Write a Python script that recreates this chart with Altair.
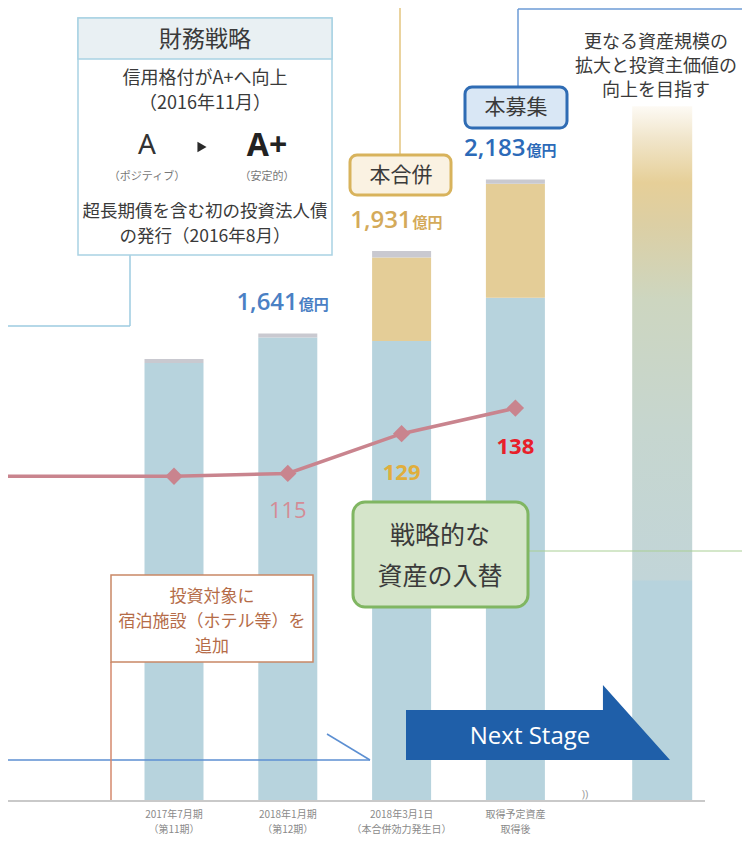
import altair as alt
import pandas as pd

# ---------------- data ----------------
periods = ["2017年7月期", "2018年1月期", "2018年3月1日", "取得予定資産"]
period_sub = ["（第11期）", "（第12期）", "（本合併効力発生日）", "取得後"]
positions = [1, 2, 3, 4]
existing_assets = [1537, 1627, 1615, 1767]   # light blue segment (億円)
merger_assets = [0, 0, 293, 401]             # tan segment (億円)
other_assets = [14, 14, 23, 15]              # grey cap (億円)
total_labels = ["", "1,641", "1,931", "2,183"]
ratio_values = [114, 115, 129, 138]
ratio_labels = ["", "115", "129", "138"]
lead_in_ratio = 114
future_pos = 5.29
future_total = 2440

segments = ["既存", "合併", "その他"]
seg_colors = ["#b7d3dd", "#e4cd97", "#c9c9d0"]

# ---------------- tables ----------------
rows = []
for i, p in enumerate(positions):
    for o, (seg, vals) in enumerate(zip(segments, [existing_assets, merger_assets, other_assets])):
        rows.append({"pos": p, "seg": seg, "v": vals[i], "o": o})
stack_df = pd.DataFrame(rows)

tot_df = pd.DataFrame({
    "pos": positions,
    "total": [a + b + c for a, b, c in zip(existing_assets, merger_assets, other_assets)],
    "label": total_labels,
})
tot_df = tot_df[tot_df["label"] != ""]

axis_df = pd.DataFrame({"pos": positions, "text": [f"{a}\n{b}" for a, b in zip(periods, period_sub)]})

line_df = pd.DataFrame({"pos": positions, "r": ratio_values, "label": ratio_labels})
XMIN, XMAX = 1 - 166 / 113.8, 1 + 568 / 113.8
lead_df = pd.concat([pd.DataFrame({"pos": [XMIN], "r": [lead_in_ratio], "label": [""]}), line_df])
future_df = pd.DataFrame({"pos": [future_pos], "v": [future_total]})

W, H = 734, 827          # whole drawing (autosize none); baseline sits 35px above the bottom
XS = alt.Scale(domain=[XMIN, XMAX], nice=False, zero=False, padding=0)
YS = alt.Scale(domain=[-35 / 0.2843, 2786], nice=False, zero=False)
RS = alt.Scale(domain=[-35 / 2.84, 278.9], nice=False, zero=False)

JP = "Noto Sans CJK JP"
NUM = "Open Sans"
DUMMY = pd.DataFrame({"d": [0]})


# ---------------- helpers for annotations (pixel positions of the picture) ----------------
def T(s, x, y, size, color="#3c3c3c", weight="normal", font=JP, align="center", baseline="middle"):
    return alt.Chart(DUMMY).mark_text(
        text=s, fontSize=size, color=color, fontWeight=weight, font=font,
        align=align, baseline=baseline
    ).encode(x=alt.value(x - 8), y=alt.value(y - 8))


def R(x1, y1, x2, y2, color, w=1.5):
    return alt.Chart(DUMMY).mark_rule(color=color, strokeWidth=w).encode(
        x=alt.value(x1 - 8), y=alt.value(y1 - 8), x2=alt.value(x2 - 8), y2=alt.value(y2 - 8))


def B(x1, y1, x2, y2, fill, stroke, w, r=0):
    return alt.Chart(DUMMY).mark_rect(fill=fill, stroke=stroke, strokeWidth=w, cornerRadius=r).encode(
        x=alt.value(x1 - 8), y=alt.value(y1 - 8), x2=alt.value(x2 - 8), y2=alt.value(y2 - 8))


X_ = alt.X("pos:Q", scale=XS, axis=None)

# ---------------- data layers ----------------
bars = alt.Chart(stack_df).mark_bar(size=59).encode(
    x=X_,
    y=alt.Y("v:Q", stack="zero", scale=YS, axis=None),
    color=alt.Color("seg:N", scale=alt.Scale(domain=segments, range=seg_colors), legend=None),
    order=alt.Order("o:Q", sort="ascending"),
)

grad = alt.Gradient(
    gradient="linear", x1=0, x2=0, y1=1, y2=0,
    stops=[
        alt.GradientStop(color="#b7d3dd", offset=0),
        alt.GradientStop(color="#b7d3dd", offset=0.315),
        alt.GradientStop(color="#c2d5d8", offset=0.318),
        alt.GradientStop(color="#c6d6cf", offset=0.534),
        alt.GradientStop(color="#cdd6c0", offset=0.72),
        alt.GradientStop(color="#dccfa4", offset=0.83),
        alt.GradientStop(color="#e6cf98", offset=0.89),
        alt.GradientStop(color="#f1e6cc", offset=0.955),
        alt.GradientStop(color="#fdfaf4", offset=1),
    ],
)
future = alt.Chart(future_df).mark_bar(size=60, color=grad).encode(
    x=X_, y=alt.Y("v:Q", scale=YS, axis=None), y2=alt.datum(0),
)

axis_text = alt.Chart(axis_df).mark_text(
    baseline="middle", lineBreak="\n", lineHeight=15, fontSize=10, font=JP, color="#8a8a8a"
).encode(x=X_, y=alt.value(815 - 8), text="text:N")

TOT_SCALE = alt.Scale(domain=total_labels[1:], range=["#4a80c4", "#d4aa5a", "#2c6ab8"])
tot_num = alt.Chart(tot_df).mark_text(align="right", baseline="alphabetic", dx=10, dy=-23,
                                      fontSize=24, font=NUM, fontWeight=600).encode(
    x=X_, y=alt.Y("total:Q", scale=YS, axis=None), text="label:N",
    color=alt.Color("label:N", scale=TOT_SCALE, legend=None),
)
tot_unit = alt.Chart(tot_df).mark_text(align="left", baseline="alphabetic", dx=11, dy=-23,
                                       fontSize=15, font=JP, fontWeight="bold", text="億円").encode(
    x=X_, y=alt.Y("total:Q", scale=YS, axis=None),
    color=alt.Color("label:N", scale=TOT_SCALE, legend=None),
)

LINE_C = "#c9848e"
ratio_line = alt.Chart(lead_df).mark_line(color=LINE_C, strokeWidth=3.5).encode(
    x=X_, y=alt.Y("r:Q", scale=RS, axis=None),
)
ratio_pts = alt.Chart(line_df).mark_point(shape="diamond", filled=True, size=300, color=LINE_C,
                                          opacity=1, strokeWidth=0).encode(
    x=X_, y=alt.Y("r:Q", scale=RS, axis=None),
)
ratio_norm = alt.Chart(line_df).transform_filter("datum.label == '115'").mark_text(
    dy=38, fontSize=22, font=NUM, color="#d48c96").encode(
    x=X_, y=alt.Y("r:Q", scale=RS, axis=None), text="label:N",
)
ratio_bold = alt.Chart(line_df).transform_filter("datum.label == '129' || datum.label == '138'").mark_text(
    dy=39, fontSize=22, font=NUM, fontWeight="bold").encode(
    x=X_, y=alt.Y("r:Q", scale=RS, axis=None), text="label:N",
    color=alt.Color("label:N", scale=alt.Scale(domain=["129", "138"], range=["#e0ae3c", "#e8202a"]),
                    legend=None),
)

# ---------------- annotations ----------------
arrow = alt.Chart(DUMMY).mark_point(
    shape="M-1,-0.095L0.492,-0.095L0.492,-0.284L1,0.284L-1,0.284Z",
    size=264 ** 2, filled=True, fill="#1f5fa9", opacity=1, strokeWidth=0,
).encode(x=alt.value(538 - 8), y=alt.value(722.5 - 8))

TXT = "#3a3a3a"
layers = [
    bars, future,
    R(8, 801, 705, 801, "#c9c9c9", 2),
    T("))", 585, 795, 11, "#9a9a9a", font=NUM),
    axis_text,
    # connectors
    R(8, 760, 370, 760, "#5c8fd2"), R(327, 734, 370, 760, "#5c8fd2"),
    R(111, 662, 111, 800, "#d4896c"),
    R(528, 551, 742, 551, "#a9cf94", 1),
    R(130, 255, 130, 326, "#9ccbe0"), R(8, 326, 130, 326, "#9ccbe0"),
    R(400, 8, 400, 155, "#e3c47e"),
    R(518, 9, 518, 87, "#6d9bd6"), R(518, 9, 742, 9, "#6d9bd6"),
    # top-left box
    B(78, 18, 332, 255, "#ffffff", "#a9d2e3", 1.5),
    B(78, 18, 332, 59, "#e9f0f3", "#a9d2e3", 1.5),
    T("財務戦略", 205, 40, 23, TXT),
    T("信用格付がA+へ向上", 205, 79, 18, TXT),
    T("（2016年11月）", 205, 104, 18, TXT),
    T("A", 147, 146, 28, "#333333", font="Noto Sans"),
    alt.Chart(DUMMY).mark_point(shape="triangle-right", filled=True, size=110, color="#2a2a2a",
                                opacity=1, strokeWidth=0).encode(x=alt.value(202 - 8), y=alt.value(147 - 8)),
    T("A+", 267, 146, 32, "#222222", weight="bold", font="Noto Sans"),
    T("（ポジティブ）", 147, 177, 11, "#777777"),
    T("（安定的）", 267, 177, 11, "#777777"),
    T("超長期債を含む初の投資法人債", 205, 212, 17.5, TXT),
    T("の発行（2016年8月）", 205, 237, 17.5, TXT),
    # 本合併
    B(350, 155, 451, 195, "#faf2e2", "#d8b35c", 3, 7),
    T("本合併", 401, 176, 21, TXT),
    # 本募集
    B(465, 87, 567, 128, "#d9e7f5", "#2f6cb4", 3, 7),
    T("本募集", 516, 108, 21, TXT),
    # top right text
    T("更なる資産規模の", 656, 43, 18, TXT),
    T("拡大と投資主価値の", 656, 67, 18, TXT),
    T("向上を目指す", 656, 91, 18, TXT),
    # green box
    B(353, 502, 528, 607, "#d5e5ca", "#80b662", 3, 12),
    T("戦略的な", 440, 536, 25, TXT),
    T("資産の入替", 440, 577, 25, TXT),
    # brown box
    B(111, 575, 313, 662, "#ffffff", "#c98866", 1.5),
    T("投資対象に", 212, 597, 17, "#b56c48"),
    T("宿泊施設（ホテル等）を", 212, 622, 17, "#b56c48"),
    T("追加", 212, 647, 17, "#b56c48"),
    # next stage arrow
    arrow,
    T("Next Stage", 530, 737, 24, "#ffffff", font=NUM),
    # ratio line & labels, value labels
    ratio_line, ratio_pts, ratio_norm, ratio_bold,
    tot_num, tot_unit,
]

chart = (
    alt.layer(*layers)
    .resolve_scale(y="independent", color="independent")
    .properties(width=W, height=H, padding=0, autosize=alt.AutoSizeParams(type="none"))
    .configure_view(stroke=None)
)

chart.save("out.html", embed_options={"renderer": "svg", "actions": False})
